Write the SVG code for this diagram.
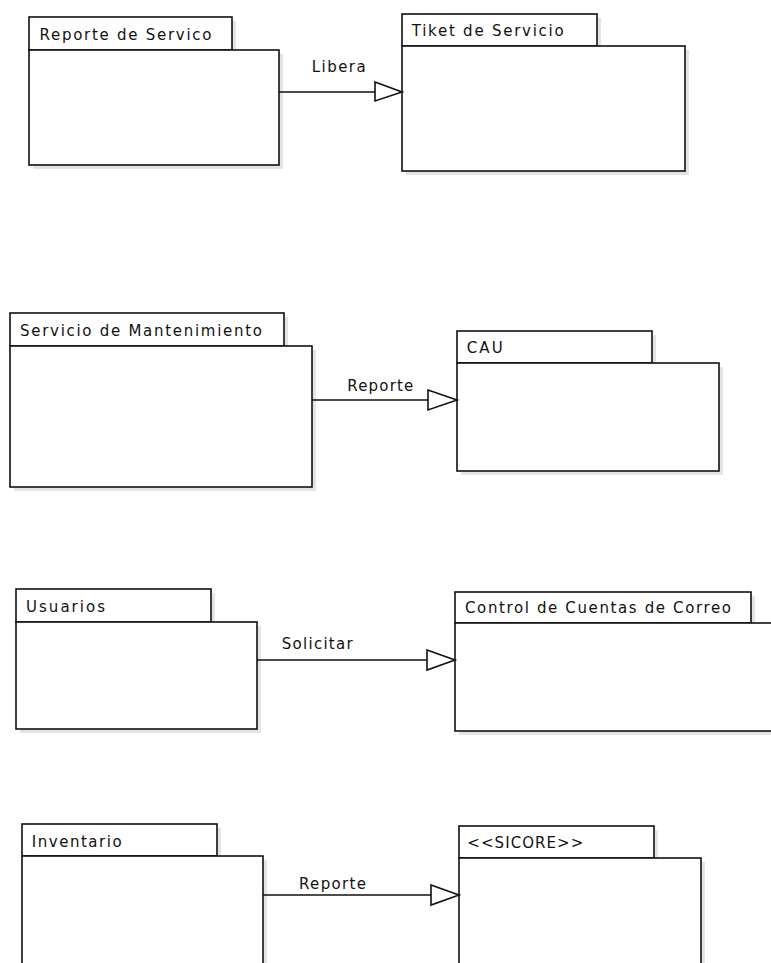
<svg xmlns="http://www.w3.org/2000/svg" width="771" height="963" viewBox="0 0 771 963">
  <style>
    .box { fill: #ffffff; stroke: #111111; stroke-width: 1.6; }
    .shadow { fill: #e6e4e2; stroke: none; }
    .edge { fill: none; stroke: #111111; stroke-width: 1.6; }
    .head { fill: #ffffff; stroke: #111111; stroke-width: 1.6; stroke-linejoin: miter; }
    .label { font-family: "DejaVu Sans", Verdana, sans-serif; font-size: 15px; fill: #111111; }
  </style>
  <rect x="0" y="0" width="771" height="963" fill="#ffffff"/>

  <!-- Packages: tab + body, each with a soft drop shadow -->
  <g id="pkg-reporte-servico">
    <rect class="shadow" x="33" y="21" width="203" height="33"/>
    <rect class="shadow" x="33" y="54" width="250" height="115"/>
    <rect class="box" x="29" y="17" width="203" height="33"/>
    <rect class="box" x="29" y="50" width="250" height="115"/>
    <text class="label" x="39.5" y="39.5" textLength="172" lengthAdjust="spacing">Reporte de Servico</text>
  </g>

  <g id="pkg-tiket-servicio">
    <rect class="shadow" x="406" y="18" width="195" height="32"/>
    <rect class="shadow" x="406" y="50" width="283" height="125"/>
    <rect class="box" x="402" y="14" width="195" height="32"/>
    <rect class="box" x="402" y="46" width="283" height="125"/>
    <text class="label" x="411.7" y="36.3" textLength="152" lengthAdjust="spacing">Tiket de Servicio</text>
  </g>

  <g id="pkg-servicio-mantenimiento">
    <rect class="shadow" x="14" y="317" width="274" height="33"/>
    <rect class="shadow" x="14" y="350" width="302" height="141"/>
    <rect class="box" x="10" y="313" width="274" height="33"/>
    <rect class="box" x="10" y="346" width="302" height="141"/>
    <text class="label" x="20" y="336" textLength="242" lengthAdjust="spacing">Servicio de Mantenimiento</text>
  </g>

  <g id="pkg-cau">
    <rect class="shadow" x="461" y="335" width="195" height="32"/>
    <rect class="shadow" x="461" y="367" width="262" height="108"/>
    <rect class="box" x="457" y="331" width="195" height="32"/>
    <rect class="box" x="457" y="363" width="262" height="108"/>
    <text class="label" x="466.7" y="353" textLength="36" lengthAdjust="spacing">CAU</text>
  </g>

  <g id="pkg-usuarios">
    <rect class="shadow" x="20" y="593" width="195" height="33"/>
    <rect class="shadow" x="20" y="626" width="241" height="107"/>
    <rect class="box" x="16" y="589" width="195" height="33"/>
    <rect class="box" x="16" y="622" width="241" height="107"/>
    <text class="label" x="26" y="612" textLength="79" lengthAdjust="spacing">Usuarios</text>
  </g>

  <g id="pkg-control-cuentas-correo">
    <rect class="shadow" x="459" y="596" width="296" height="31"/>
    <rect class="shadow" x="459" y="627" width="320" height="108"/>
    <rect class="box" x="455" y="592" width="296" height="31"/>
    <rect class="box" x="455" y="623" width="320" height="108"/>
    <text class="label" x="465" y="613" textLength="266" lengthAdjust="spacing">Control de Cuentas de Correo</text>
  </g>

  <g id="pkg-inventario">
    <rect class="shadow" x="26" y="828" width="195" height="32"/>
    <rect class="shadow" x="26" y="860" width="241" height="115"/>
    <rect class="box" x="22" y="824" width="195" height="32"/>
    <rect class="box" x="22" y="856" width="241" height="115"/>
    <text class="label" x="31.7" y="847" textLength="90" lengthAdjust="spacing">Inventario</text>
  </g>

  <g id="pkg-sicore">
    <rect class="shadow" x="463" y="830" width="195" height="32"/>
    <rect class="shadow" x="463" y="862" width="242" height="115"/>
    <rect class="box" x="459" y="826" width="195" height="32"/>
    <rect class="box" x="459" y="858" width="242" height="115"/>
    <text class="label" x="467.3" y="848" textLength="116" lengthAdjust="spacing">&lt;&lt;SICORE&gt;&gt;</text>
  </g>

  <!-- Generalization connectors with hollow triangle heads -->
  <g id="connectors">
    <line class="edge" x1="279" y1="92" x2="375" y2="92"/>
    <polygon class="head" points="375,82 402,92 375,101"/>
    <text class="label" x="311.7" y="72" textLength="54" lengthAdjust="spacing">Libera</text>

    <line class="edge" x1="312" y1="400" x2="428" y2="400"/>
    <polygon class="head" points="428,390 457,400 428,410"/>
    <text class="label" x="347.3" y="391" textLength="66" lengthAdjust="spacing">Reporte</text>

    <line class="edge" x1="257" y1="660" x2="427" y2="660"/>
    <polygon class="head" points="427,650 455,660 427,670"/>
    <text class="label" x="281.7" y="649" textLength="71" lengthAdjust="spacing">Solicitar</text>

    <line class="edge" x1="263" y1="895" x2="431" y2="895"/>
    <polygon class="head" points="431,885 459,895 431,905"/>
    <text class="label" x="299" y="889" textLength="67" lengthAdjust="spacing">Reporte</text>
  </g>
</svg>
